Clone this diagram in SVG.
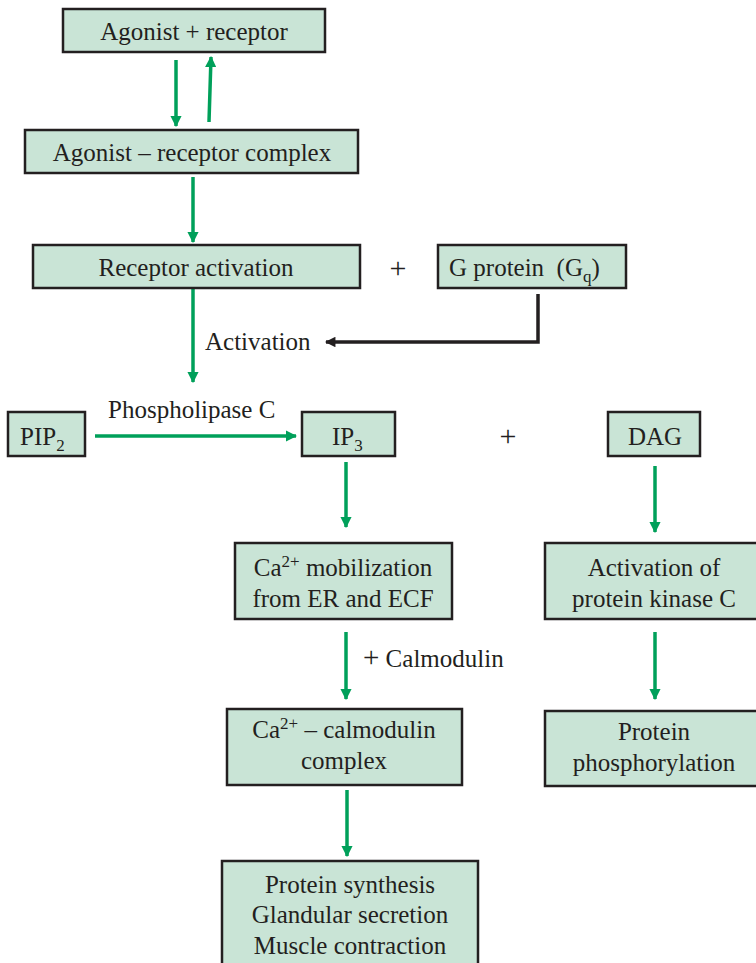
<svg xmlns="http://www.w3.org/2000/svg" width="756" height="963" viewBox="0 0 756 963">
<style>
.box{fill:#c9e4d6;stroke:#231f20;stroke-width:2.5}
.t{font-family:"Liberation Serif","Times New Roman",serif;font-size:25px;fill:#231f20}
.c{text-anchor:middle}
.p{font-family:"Liberation Serif","Times New Roman",serif;font-size:30px;fill:#231f20;text-anchor:middle}
.g{stroke:#00a05a;stroke-width:3.5;fill:none}
.k{stroke:#231f20;stroke-width:3.5;fill:none}
</style>
<defs>
<marker id="ag" viewBox="0 0 10 10" refX="9" refY="5" markerWidth="3.2" markerHeight="3.2" orient="auto" markerUnits="strokeWidth"><path d="M0,0 L10,5 L0,10 z" fill="#00a05a"/></marker>
<marker id="ak" viewBox="0 0 10 10" refX="9" refY="5" markerWidth="3.2" markerHeight="3" orient="auto" markerUnits="strokeWidth"><path d="M0,0 L10,5 L0,10 z" fill="#231f20"/></marker>
</defs>
<rect width="756" height="963" fill="#fff"/>
<g id="connectors">
<line class="g" x1="176" y1="60" x2="176" y2="126" marker-end="url(#ag)"/>
<line class="g" x1="209" y1="122" x2="211" y2="57" marker-end="url(#ag)"/>
<line class="g" x1="193" y1="177" x2="193" y2="242" marker-end="url(#ag)"/>
<line class="g" x1="193" y1="287" x2="193" y2="382" marker-end="url(#ag)"/>
<polyline class="k" points="538,294 538,342 326,342" marker-end="url(#ak)"/>
<line class="g" x1="95" y1="436" x2="296" y2="436" marker-end="url(#ag)"/>
<line class="g" x1="346" y1="462" x2="346" y2="527" marker-end="url(#ag)"/>
<line class="g" x1="655" y1="466" x2="655" y2="532" marker-end="url(#ag)"/>
<line class="g" x1="346" y1="632" x2="346" y2="699" marker-end="url(#ag)"/>
<line class="g" x1="655" y1="632" x2="655" y2="699" marker-end="url(#ag)"/>
<line class="g" x1="347" y1="790" x2="347" y2="856" marker-end="url(#ag)"/>
</g>
<g id="n1"><rect class="box" x="63" y="9" width="262" height="43"/><text class="t c" x="194" y="40">Agonist + receptor</text></g>
<g id="n2"><rect class="box" x="25" y="130" width="333" height="43"/><text class="t c" x="192" y="161">Agonist – receptor complex</text></g>
<g id="n3"><rect class="box" x="33" y="245" width="327" height="43"/><text class="t c" x="196" y="276">Receptor activation</text></g>
<text class="p" x="398" y="278">+</text>
<g id="n4"><rect class="box" x="438" y="245" width="188" height="43"/><text class="t" x="449" y="276">G protein &#160;(G<tspan font-size="17" dy="6">q</tspan><tspan dy="-6">)</tspan></text></g>
<text class="t" x="205" y="350">Activation</text>
<g id="n5"><rect class="box" x="8" y="412" width="77" height="44"/><text class="t" x="20" y="445">PIP<tspan font-size="17" dy="6">2</tspan></text></g>
<text class="t" x="108" y="418">Phospholipase C</text>
<g id="n6"><rect class="box" x="302" y="412" width="93" height="44"/><text class="t" x="332" y="445">IP<tspan font-size="17" dy="6">3</tspan></text></g>
<text class="p" x="508" y="446">+</text>
<g id="n7"><rect class="box" x="608" y="412" width="92" height="44"/><text class="t c" x="655" y="445">DAG</text></g>
<g id="n8"><rect class="box" x="235" y="543" width="217" height="76"/><text class="t c" x="343" y="576">Ca<tspan font-size="17" dy="-9">2+</tspan><tspan dy="9"> mobilization</tspan></text><text class="t c" x="343" y="607">from ER and ECF</text></g>
<g id="n9"><rect class="box" x="545" y="543" width="215" height="76"/><text class="t c" x="654" y="576">Activation of</text><text class="t c" x="654" y="607">protein kinase C</text></g>
<text class="t" x="363" y="667"><tspan font-size="29">+</tspan> Calmodulin</text>
<g id="n10"><rect class="box" x="227" y="709" width="235" height="76"/><text class="t c" x="344" y="738">Ca<tspan font-size="17" dy="-9">2+</tspan><tspan dy="9"> – calmodulin</tspan></text><text class="t c" x="344" y="769">complex</text></g>
<g id="n11"><rect class="box" x="545" y="711" width="215" height="75"/><text class="t c" x="654" y="740">Protein</text><text class="t c" x="654" y="771">phosphorylation</text></g>
<g id="n12"><rect class="box" x="222" y="861" width="256" height="110"/><text class="t c" x="350" y="893">Protein synthesis</text><text class="t c" x="350" y="923">Glandular secretion</text><text class="t c" x="350" y="954">Muscle contraction</text></g>
</svg>
